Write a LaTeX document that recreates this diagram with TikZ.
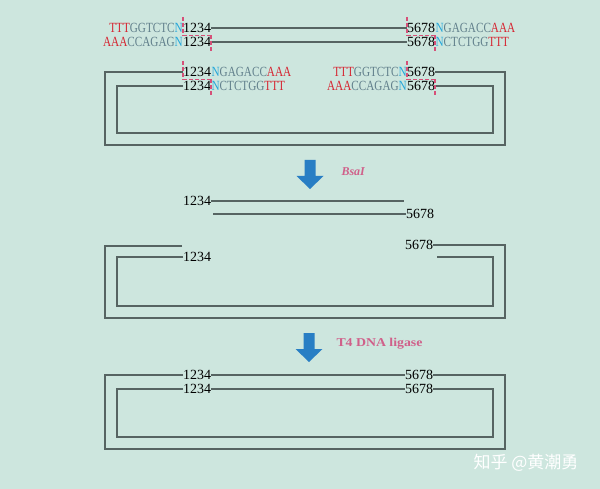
\documentclass[tikz,border=0pt]{standalone}
\usepackage{fontspec}
\setmainfont{Liberation Serif}
\newfontfamily\cjk{Noto Sans CJK SC}
\usepackage{graphicx}
\definecolor{bgmint}{RGB}{205,230,222}
\definecolor{seqred}{RGB}{214,38,50}
\definecolor{seqgray}{RGB}{98,128,140}
\definecolor{seqcyan}{RGB}{38,168,218}
\definecolor{strandgray}{RGB}{86,100,98}
\definecolor{cutpink}{RGB}{214,80,120}
\definecolor{arrowblue}{RGB}{40,126,196}
\definecolor{enzpink}{RGB}{208,96,138}
\def\lsite#1#2{\scalebox{0.8}[1]{\color{seqred}#1\color{seqgray}#2\color{seqcyan}N}}
\def\rsite#1#2{\scalebox{0.8}[1]{\color{seqcyan}N\color{seqgray}#1\color{seqred}#2}}
\def\fatarrow(#1,#2){\fill[arrowblue] (#1-5.5,#2) -- (#1+5.5,#2) -- (#1+5.5,#2+16) -- (#1+13.5,#2+16) -- (#1,#2+29) -- (#1-13.5,#2+16) -- (#1-5.5,#2+16) -- cycle;}
\def\cutmark(#1,#2){\draw[cut] (#1,#2) -- (#1,#2+18.5); \draw[cut] (#1,#2+18.5) -- (#1+28,#2+18.5); \draw[cut] (#1+28,#2+18.5) -- (#1+28,#2+36);}
\tikzset{
  seq/.style={inner sep=0pt, font=\fontsize{14}{16}\selectfont},
  strand/.style={draw=strandgray, line width=1.5pt},
  cut/.style={draw=cutpink, line width=1.1pt, dash pattern=on 4pt off 2pt},
  enzyme/.style={text=enzpink, font=\fontsize{12}{14}\selectfont\bfseries}
}
\begin{document}
\begin{tikzpicture}[x=1pt, y=-1pt]
			%%%%% START %%%%%
			\fill[bgmint] (0,0) rectangle (600,489);
			\useasboundingbox (0,0) rectangle (600,489);
			
			% cut sites, linear
			\node[seq, anchor=west] (l1n) at (183,28) {1234};
			\node[seq, anchor=east] (l1s) at (l1n.west) {\lsite{TTT}{GGTCTC}};
			\node[seq, anchor=west] (r1n) at (407,28) {5678};
			\node[seq, anchor=west] (r1s) at (r1n.east) {\rsite{GAGACC}{AAA}};
			\node[seq, anchor=west] (l2n) at (183,42) {1234};
			\node[seq, anchor=east] (l2s) at (l2n.west) {\lsite{AAA}{CCAGAG}};
			\node[seq, anchor=west] (r2n) at (407,42) {5678};
			\node[seq, anchor=west] (r2s) at (r2n.east) {\rsite{CTCTGG}{TTT}};
			\draw[strand] (l1n.east) -- (r1n.west);
			\draw[strand] (l2n.east) -- (r2n.west);
			\cutmark(183,17)
			\cutmark(407,17)
			
			% cut sites, vector
			\node[seq, anchor=west] (l3n) at (183,72) {1234};
			\node[seq, anchor=west] (l3s) at (l3n.east) {\rsite{GAGACC}{AAA}};
			\node[seq, anchor=west] (r3n) at (407,72) {5678};
			\node[seq, anchor=east] (r3s) at (r3n.west) {\lsite{TTT}{GGTCTC}};
			\node[seq, anchor=west] (l4n) at (183,86) {1234};
			\node[seq, anchor=west] (l4s) at (l4n.east) {\rsite{CTCTGG}{TTT}};
			\node[seq, anchor=west] (r4n) at (407,86) {5678};
			\node[seq, anchor=east] (r4s) at (r4n.west) {\lsite{AAA}{CCAGAG}};
			\draw[strand] (l3n.west) -| (105,145) -| (505,72) -- (r3n.east);
			\draw[strand] (l4n.west) -| (117,133) -| (493,86) -- (r4n.east);
			\cutmark(183,61)
			\cutmark(407,61)
			
			\fatarrow(310,160)
			\node[enzyme, anchor=west] (bsa) at (338,172) {\textit{BsaI}};
			
			% digested insert
			\node[seq, anchor=west] (p2a) at (183,201) {1234};
			\node[seq, anchor=west] (p2b) at (406,214) {5678};
			\coordinate (p2aend) at (404,201);
			\coordinate (p2bend) at (213,214);
			\draw[strand] (p2a.east) -- (p2aend);
			\draw[strand] (p2bend) -- (p2b.west);
			
			% digested vector
			\node[seq, anchor=west] (p3a) at (183,257) {1234};
			\node[seq, anchor=west] (p3b) at (405,245) {5678};
			\coordinate (p3aend) at (182,246);
			\coordinate (p3bend) at (437,257);
			\draw[strand] (p3aend) -- (105,246) |- (505,318) |- (p3b.east);
			\draw[strand] (p3a.west) -| (117,306) -| (493,257) -- (p3bend);
			
			\fatarrow(309,333)
			\node[enzyme, anchor=west] (lig) at (333,344) {\scalebox{1.15}[1]{T4 DNA ligase}};
			
			% ligated product
			\node[seq, anchor=west] (p4a) at (183,375) {1234};
			\node[seq, anchor=west] (p4b) at (405,375) {5678};
			\node[seq, anchor=west] (p4c) at (183,389) {1234};
			\node[seq, anchor=west] (p4d) at (405,389) {5678};
			\draw[strand] (p4a.east) -- (p4b.west);
			\draw[strand] (p4c.east) -- (p4d.west);
			\draw[strand] (p4a.west) -| (105,449) -| (505,375) -- (p4b.east);
			\draw[strand] (p4c.west) -| (117,437) -| (493,389) -- (p4d.east);
			
			\node[text=white, anchor=west, font=\cjk\fontsize{17}{19}\selectfont] (mark) at (470,463) {知乎 @黄潮勇};
			%%%%% END %%%%%
		\end{tikzpicture}
\end{document}
